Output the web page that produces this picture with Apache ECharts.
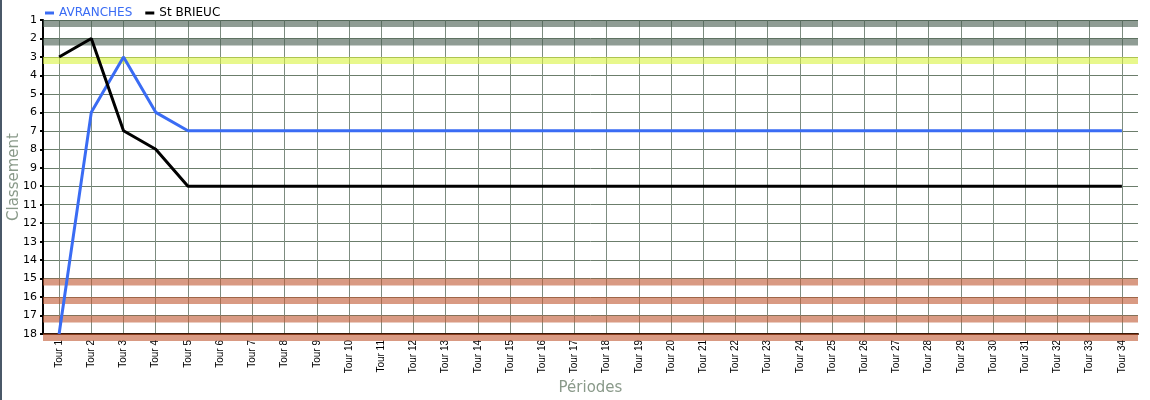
<!DOCTYPE html>
<html><head><meta charset="utf-8">
<script src="https://cdn.jsdelivr.net/npm/echarts@6/dist/echarts.min.js"></script>
<style>html,body{margin:0;padding:0;background:#fff}#c{width:1148px;height:400px;border-left:2px solid #4a5868}</style>
</head><body><div id="c"></div>
<script>
const categories = Array.from({length:34},(_,i)=>'Tour '+(i+1));
const avranches = [18,6,3,6,7,7,7,7,7,7,7,7,7,7,7,7,7,7,7,7,7,7,7,7,7,7,7,7,7,7,7,7,7,7];
const stBrieuc  = [3,2,7,8,10,10,10,10,10,10,10,10,10,10,10,10,10,10,10,10,10,10,10,10,10,10,10,10,10,10,10,10,10,10];
const yTicks = {min:1,max:18};
const greyRanks = [1,2];
const yellowRanks = [3];
const redRanks = [15,16,17,18];

const bandH = 0.38;
const bandColors = {grey:'rgba(68,90,77,0.6)',yellow:'rgba(217,243,63,0.6)',red:'rgba(192,87,48,0.6)'};
const bandData = [].concat(
  greyRanks.map(r=>({value:[0,r],kind:'grey'})),
  yellowRanks.map(r=>({value:[0,r],kind:'yellow'})),
  redRanks.map(r=>({value:[0,r],kind:'red'}))
);

const chart = echarts.init(document.getElementById('c'));
chart.setOption({
  animation:false,
  textStyle:{fontFamily:'DejaVu Sans'},
  legend:{left:38,top:2,icon:'rect',itemWidth:9,itemHeight:3,itemGap:13,
    textStyle:{fontSize:12,fontFamily:'DejaVu Sans'},
    data:[{name:'AVRANCHES',textStyle:{color:'#3a6cf4'}},{name:'St BRIEUC',textStyle:{color:'#000'}}]},
  grid:{left:41,right:12,top:20,bottom:66,containLabel:false,outerBoundsMode:'none'},
  xAxis:{type:'category',data:categories,boundaryGap:true,
    name:'Périodes',nameLocation:'middle',nameGap:47,nameMoveOverlap:false,
    nameTextStyle:{color:'#8a9a8a',fontSize:15},
    axisLine:{lineStyle:{color:'#3a1a08',width:2}},
    axisTick:{alignWithLabel:true,length:3,lineStyle:{color:'#3a1a08',width:2}},
    axisLabel:{rotate:90,fontSize:10,fontFamily:'Liberation Sans',color:'#000',margin:6},
    splitLine:{show:true,alignWithLabel:true,lineStyle:{color:'#7d8c80',width:1}}},
  yAxis:{type:'value',inverse:true,min:yTicks.min,max:yTicks.max,interval:1,
    name:'Classement',nameLocation:'middle',nameGap:21,nameMoveOverlap:false,
    nameTextStyle:{color:'#8a9a8a',fontSize:15},
    axisLine:{show:true,lineStyle:{color:'#000',width:2}},
    axisTick:{show:true,length:3,lineStyle:{color:'#000',width:2}},
    axisLabel:{fontSize:11,color:'#000',margin:6},
    splitLine:{show:true,lineStyle:{color:'#6b7d6b',width:1}}},
  series:[
    {type:'custom',data:bandData,clip:false,silent:true,z:1,
     renderItem:function(params,api){
       const cs = params.coordSys;
       const r = api.value(1);
       const y0 = api.coord([0,r])[1];
       const y1 = api.coord([0,r+bandH])[1];
       const kind = bandData[params.dataIndex].kind;
       return {type:'rect',shape:{x:cs.x,y:y0,width:cs.width,height:y1-y0},style:{fill:bandColors[kind]}};
     }},
    {name:'AVRANCHES',type:'line',data:avranches,showSymbol:false,symbol:'none',
     lineStyle:{color:'#3a6cf4',width:3},itemStyle:{color:'#3a6cf4'},clip:false,z:3},
    {name:'St BRIEUC',type:'line',data:stBrieuc,showSymbol:false,symbol:'none',
     lineStyle:{color:'#000',width:3},itemStyle:{color:'#000'},z:4}
  ]
});
</script></body></html>
